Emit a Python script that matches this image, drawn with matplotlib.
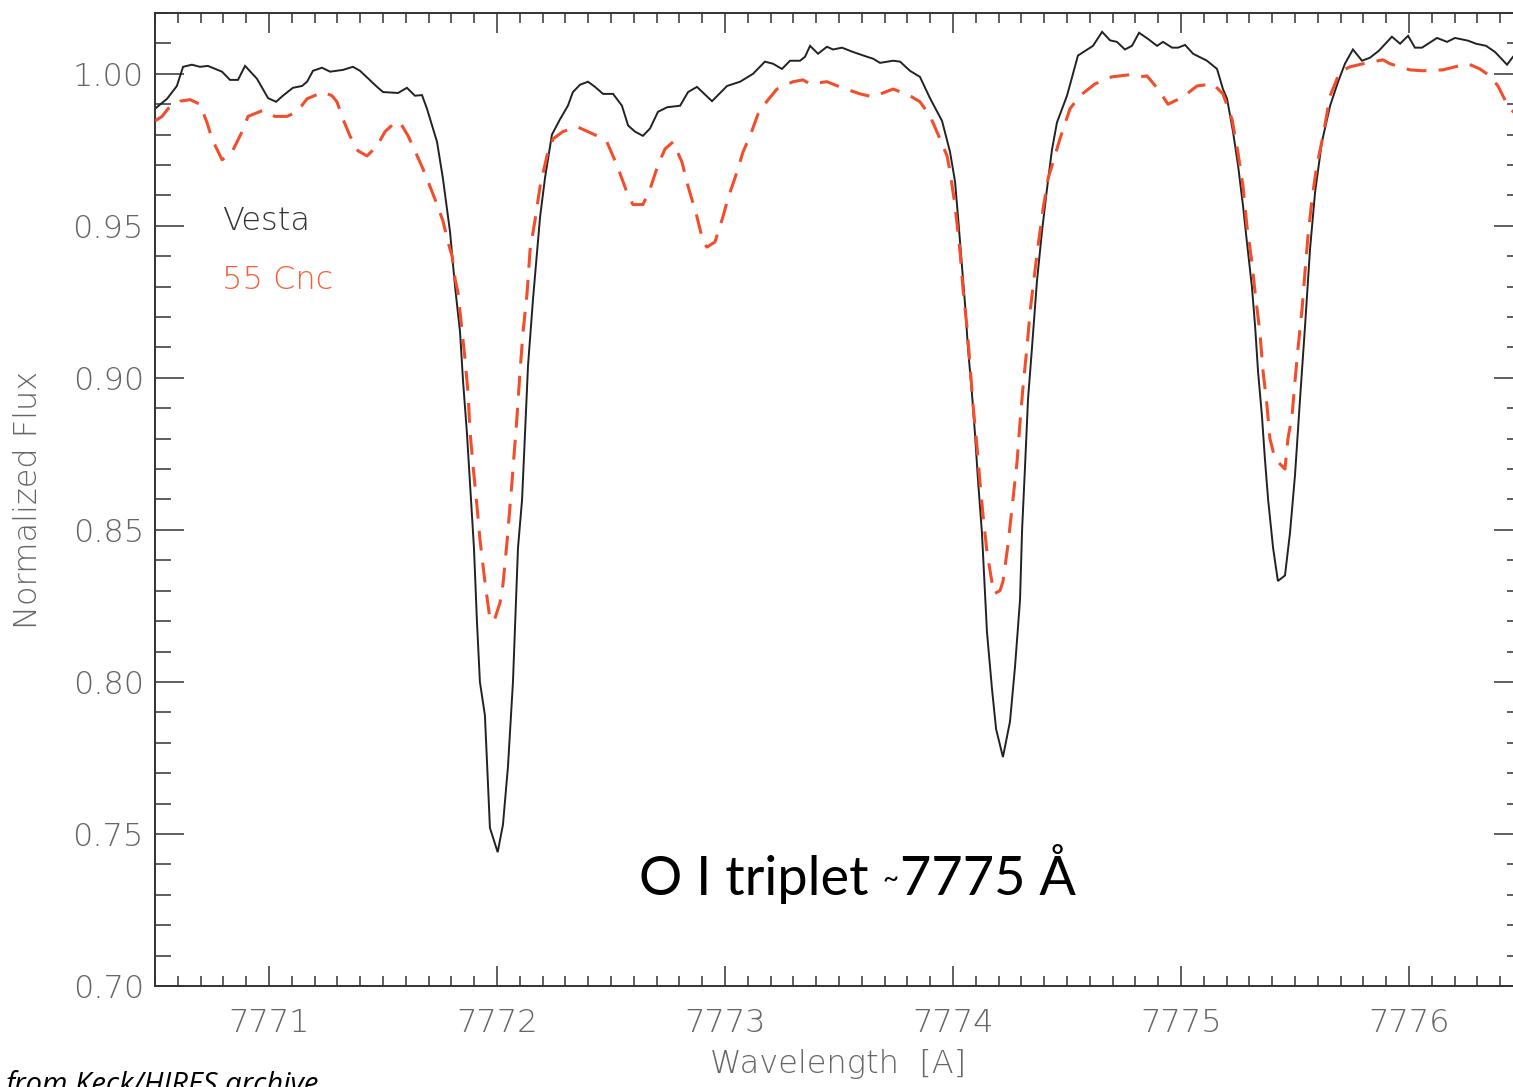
import matplotlib
matplotlib.use("Agg")
import matplotlib.pyplot as plt
from matplotlib.ticker import MultipleLocator, FormatStrFormatter

# ---------------- data ----------------
vesta_wl = [
    7770.500, 7770.553, 7770.596, 7770.623, 7770.662, 7770.697, 7770.732, 7770.794,
    7770.829, 7770.864, 7770.895, 7770.947, 7770.996, 7771.031, 7771.061, 7771.105,
    7771.145, 7771.167, 7771.193, 7771.232, 7771.268, 7771.325, 7771.368, 7771.399,
    7771.474, 7771.500, 7771.566, 7771.605, 7771.640, 7771.671, 7771.693, 7771.737,
    7771.763, 7771.794, 7771.816, 7771.838, 7771.851, 7771.868, 7771.882, 7771.899,
    7771.912, 7771.925, 7771.947, 7771.969, 7772.003, 7772.026, 7772.048, 7772.070,
    7772.092, 7772.110, 7772.123, 7772.136, 7772.158, 7772.189, 7772.211, 7772.241,
    7772.276, 7772.311, 7772.333, 7772.364, 7772.399, 7772.430, 7772.465, 7772.509,
    7772.548, 7772.575, 7772.605, 7772.640, 7772.671, 7772.706, 7772.746, 7772.803,
    7772.838, 7772.877, 7772.943, 7773.009, 7773.066, 7773.123, 7773.175, 7773.211,
    7773.250, 7773.285, 7773.329, 7773.351, 7773.373, 7773.408, 7773.447, 7773.474,
    7773.513, 7773.561, 7773.623, 7773.649, 7773.680, 7773.737, 7773.768, 7773.811,
    7773.855, 7773.899, 7773.952, 7773.987, 7774.009, 7774.022, 7774.039, 7774.053,
    7774.066, 7774.083, 7774.096, 7774.110, 7774.127, 7774.149, 7774.171, 7774.189,
    7774.219, 7774.250, 7774.272, 7774.294, 7774.303, 7774.316, 7774.329, 7774.346,
    7774.368, 7774.390, 7774.412, 7774.434, 7774.456, 7774.500, 7774.548, 7774.614,
    7774.654, 7774.689, 7774.719, 7774.754, 7774.785, 7774.816, 7774.855, 7774.895,
    7774.921, 7774.961, 7774.987, 7775.018, 7775.053, 7775.114, 7775.158, 7775.184,
    7775.202, 7775.228, 7775.250, 7775.272, 7775.289, 7775.311, 7775.325, 7775.338,
    7775.355, 7775.368, 7775.382, 7775.404, 7775.425, 7775.456, 7775.478, 7775.500,
    7775.522, 7775.544, 7775.566, 7775.588, 7775.618, 7775.654, 7775.689, 7775.719,
    7775.754, 7775.794, 7775.829, 7775.868, 7775.925, 7775.961, 7775.996, 7776.026,
    7776.057, 7776.123, 7776.167, 7776.202, 7776.259, 7776.294, 7776.338, 7776.377,
    7776.430, 7776.456, 7776.500,
]
vesta_flux = [
    0.9885, 0.9918, 0.9960, 1.0023, 1.0030, 1.0023, 1.0026, 1.0007,
    0.9980, 0.9980, 1.0026, 0.9984, 0.9920, 0.9908, 0.9928, 0.9954,
    0.9960, 0.9974, 1.0010, 1.0020, 1.0007, 1.0013, 1.0023, 1.0010,
    0.9957, 0.9940, 0.9937, 0.9954, 0.9928, 0.9930, 0.9885, 0.9776,
    0.9655, 0.9480, 0.9300, 0.9150, 0.8990, 0.8820, 0.8650, 0.8440,
    0.8200, 0.8000, 0.7890, 0.7520, 0.7440, 0.7530, 0.7720, 0.8000,
    0.8440, 0.8600, 0.8820, 0.9040, 0.9260, 0.9530, 0.9660, 0.9800,
    0.9850, 0.9895, 0.9940, 0.9964, 0.9974, 0.9957, 0.9934, 0.9934,
    0.9895, 0.9830, 0.9810, 0.9796, 0.9820, 0.9875, 0.9890, 0.9895,
    0.9940, 0.9957, 0.9910, 0.9960, 0.9974, 1.0000, 1.0040, 1.0033,
    1.0016, 1.0043, 1.0043, 1.0056, 1.0092, 1.0066, 1.0089, 1.0080,
    1.0086, 1.0072, 1.0056, 1.0050, 1.0036, 1.0043, 1.0040, 1.0010,
    0.9990, 0.9920, 0.9845, 0.9743, 0.9645, 0.9530, 0.9370, 0.9240,
    0.9095, 0.8950, 0.8820, 0.8660, 0.8490, 0.8164, 0.7977, 0.7845,
    0.7753, 0.7870, 0.8050, 0.8270, 0.8500, 0.8710, 0.8930, 0.9095,
    0.9316, 0.9480, 0.9620, 0.9750, 0.9840, 0.9928, 1.0060, 1.0092,
    1.0138, 1.0110, 1.0105, 1.0080, 1.0092, 1.0135, 1.0115, 1.0092,
    1.0105, 1.0086, 1.0086, 1.0095, 1.0066, 1.0043, 1.0016, 0.9950,
    0.9918, 0.9810, 0.9700, 0.9566, 0.9447, 0.9300, 0.9170, 0.9020,
    0.8875, 0.8734, 0.8600, 0.8440, 0.8332, 0.8350, 0.8490, 0.8680,
    0.8930, 0.9170, 0.9424, 0.9610, 0.9776, 0.9895, 0.9974, 1.0033,
    1.0080, 1.0043, 1.0053, 1.0076, 1.0122, 1.0099, 1.0125, 1.0086,
    1.0086, 1.0118, 1.0105, 1.0118, 1.0109, 1.0099, 1.0092, 1.0072,
    1.0030, 1.0056, 1.0080,
]

cnc_wl = [
    7770.500, 7770.531, 7770.557, 7770.610, 7770.654, 7770.697, 7770.728, 7770.750,
    7770.794, 7770.838, 7770.882, 7770.908, 7770.974, 7771.026, 7771.079, 7771.123,
    7771.167, 7771.237, 7771.276, 7771.298, 7771.325, 7771.355, 7771.390, 7771.430,
    7771.474, 7771.509, 7771.553, 7771.575, 7771.610, 7771.640, 7771.675, 7771.706,
    7771.737, 7771.763, 7771.785, 7771.803, 7771.816, 7771.829, 7771.838, 7771.846,
    7771.860, 7771.873, 7771.882, 7771.895, 7771.912, 7771.925, 7771.947, 7771.969,
    7771.987, 7772.013, 7772.026, 7772.044, 7772.066, 7772.088, 7772.101, 7772.114,
    7772.132, 7772.145, 7772.167, 7772.189, 7772.219, 7772.246, 7772.289, 7772.351,
    7772.439, 7772.482, 7772.526, 7772.570, 7772.596, 7772.640, 7772.671, 7772.706,
    7772.737, 7772.772, 7772.811, 7772.838, 7772.877, 7772.904, 7772.921, 7772.956,
    7772.991, 7773.013, 7773.053, 7773.079, 7773.110, 7773.145, 7773.184, 7773.228,
    7773.298, 7773.342, 7773.373, 7773.447, 7773.504, 7773.592, 7773.649, 7773.737,
    7773.811, 7773.855, 7773.899, 7773.943, 7773.974, 7773.987, 7774.009, 7774.031,
    7774.044, 7774.061, 7774.075, 7774.088, 7774.105, 7774.118, 7774.132, 7774.149,
    7774.167, 7774.180, 7774.206, 7774.219, 7774.241, 7774.263, 7774.281, 7774.294,
    7774.307, 7774.325, 7774.338, 7774.351, 7774.373, 7774.395, 7774.417, 7774.447,
    7774.469, 7774.513, 7774.557, 7774.623, 7774.697, 7774.776, 7774.820, 7774.851,
    7774.899, 7774.943, 7775.009, 7775.070, 7775.140, 7775.184, 7775.224, 7775.250,
    7775.272, 7775.289, 7775.311, 7775.325, 7775.346, 7775.360, 7775.377, 7775.390,
    7775.412, 7775.456, 7775.469, 7775.487, 7775.500, 7775.513, 7775.531, 7775.544,
    7775.557, 7775.575, 7775.596, 7775.623, 7775.654, 7775.697, 7775.741, 7775.798,
    7775.886, 7775.917, 7776.004, 7776.061, 7776.149, 7776.202, 7776.259, 7776.311,
    7776.355, 7776.390, 7776.434, 7776.500,
]
cnc_flux = [
    0.9845, 0.9860, 0.9885, 0.9910, 0.9915, 0.9900, 0.9840, 0.9786,
    0.9717, 0.9743, 0.9810, 0.9860, 0.9880, 0.9860, 0.9860, 0.9875,
    0.9918, 0.9940, 0.9928, 0.9908, 0.9850, 0.9796, 0.9747, 0.9730,
    0.9763, 0.9810, 0.9840, 0.9840, 0.9796, 0.9747, 0.9688, 0.9630,
    0.9570, 0.9516, 0.9447, 0.9400, 0.9326, 0.9280, 0.9217, 0.9160,
    0.9060, 0.8950, 0.8820, 0.8710, 0.8580, 0.8470, 0.8330, 0.8207,
    0.8200, 0.8260, 0.8320, 0.8460, 0.8660, 0.8875, 0.9020, 0.9150,
    0.9280, 0.9420, 0.9520, 0.9630, 0.9730, 0.9786, 0.9810, 0.9826,
    0.9796, 0.9776, 0.9700, 0.9610, 0.9570, 0.9570, 0.9620, 0.9700,
    0.9753, 0.9776, 0.9710, 0.9630, 0.9530, 0.9447, 0.9430, 0.9447,
    0.9530, 0.9590, 0.9678, 0.9743, 0.9796, 0.9868, 0.9910, 0.9950,
    0.9974, 0.9980, 0.9967, 0.9974, 0.9957, 0.9934, 0.9924, 0.9950,
    0.9928, 0.9908, 0.9862, 0.9786, 0.9730, 0.9678, 0.9566, 0.9414,
    0.9290, 0.9170, 0.9040, 0.8910, 0.8776, 0.8660, 0.8546, 0.8428,
    0.8345, 0.8290, 0.8300, 0.8330, 0.8450, 0.8600, 0.8724, 0.8855,
    0.8970, 0.9105, 0.9217, 0.9300, 0.9434, 0.9556, 0.9655, 0.9730,
    0.9786, 0.9885, 0.9928, 0.9967, 0.9990, 0.9997, 0.9990, 0.9993,
    0.9950, 0.9900, 0.9924, 0.9960, 0.9967, 0.9934, 0.9850, 0.9740,
    0.9630, 0.9500, 0.9380, 0.9280, 0.9150, 0.9020, 0.8910, 0.8800,
    0.8734, 0.8700, 0.8800, 0.8875, 0.8990, 0.9095, 0.9227, 0.9350,
    0.9467, 0.9590, 0.9700, 0.9796, 0.9928, 1.0007, 1.0023, 1.0033,
    1.0046, 1.0033, 1.0013, 1.0010, 1.0013, 1.0023, 1.0033, 1.0016,
    0.9993, 0.9960, 0.9895, 0.9840,
]

series_labels = ["Vesta", "55 Cnc"]
x_ticks = [7771, 7772, 7773, 7774, 7775, 7776]
y_ticks = [0.70, 0.75, 0.80, 0.85, 0.90, 0.95, 1.00]

# ---------------- styling ----------------
W, H = 1513, 1087
BLACK = "#222222"
ORANGE = "#F24E2C"
GRAY = "#666666"
AXC = "#333333"
FAM = ["DejaVu Sans"]
WT = "light"
FS = 23

fig = plt.figure(figsize=(W / 100, H / 100), dpi=100)
fig.patch.set_facecolor("white")
ax = fig.add_axes([155 / W, 101 / H, 1368 / W, 973 / H])

ax.plot(vesta_wl, vesta_flux, color=BLACK, lw=1.4, solid_joinstyle="miter", zorder=2)
ax.plot(cnc_wl, cnc_flux, color=ORANGE, lw=2.2, dashes=(6.5, 4.0), zorder=3)

ax.set_xlim(7770.5, 7776.5)
ax.set_ylim(0.70, 1.02)

ax.xaxis.set_minor_locator(MultipleLocator(0.1))
ax.yaxis.set_minor_locator(MultipleLocator(0.01))
ax.set_xticks(x_ticks)
ax.set_yticks(y_ticks)
ax.yaxis.set_major_formatter(FormatStrFormatter("%.2f"))
ax.xaxis.set_major_formatter(FormatStrFormatter("%d"))

for s in ax.spines.values():
    s.set_color(AXC)
    s.set_linewidth(1.4)

ax.tick_params(axis="x", which="major", direction="in", length=14.4, width=1.1,
               color=AXC, top=True, bottom=True, pad=16, labelsize=FS, labelcolor=GRAY)
ax.tick_params(axis="x", which="minor", direction="in", length=7.2, width=1.1,
               color=AXC, top=True, bottom=True)
ax.tick_params(axis="y", which="major", direction="in", length=20.9, width=1.1,
               color=AXC, left=True, right=True, pad=8, labelsize=FS, labelcolor=GRAY)
ax.tick_params(axis="y", which="minor", direction="in", length=11.5, width=1.1,
               color=AXC, left=True, right=True)
for lab in ax.get_xticklabels() + ax.get_yticklabels():
    lab.set_family(FAM)
    lab.set_weight(WT)

ax.set_xlabel("Wavelength  [A]", fontsize=FS, color=GRAY, family=FAM, weight=WT)
ax.set_ylabel("Normalized Flux", fontsize=FS, color=GRAY, family=FAM, weight=WT)
ax.xaxis.set_label_coords((838 - 155) / 1368, -(1049 - 986) / 973)
ax.yaxis.set_label_coords(-(155 - 43) / 1368, (986 - 500) / 973)

ax.text(7770.795, 0.9487, series_labels[0], fontsize=FS, color="#333333",
        family=FAM, weight=WT, va="baseline")
ax.text(7770.795, 0.9293, series_labels[1], fontsize=FS, color="#F4603A",
        family=FAM, weight=WT, va="baseline")

# annotation "O I triplet ~7775 Å"
ann_font = ["Lato", "DejaVu Sans"]
base_y = (H - 895) / H
t1 = fig.text(639 / W, base_y, "O I triplet ", fontsize=39, family=ann_font,
              color="black", va="baseline", ha="left")
fig.canvas.draw()
r = fig.canvas.get_renderer()
bb = t1.get_window_extent(r)
t2 = fig.text(bb.x1 / W, base_y + 6 / H, "~", fontsize=20, family=ann_font,
              color="black", va="baseline", ha="left")
bb2 = t2.get_window_extent(r)
fig.text(bb2.x1 / W + 1 / W, base_y, "7775 Å", fontsize=39, family=ann_font,
         color="black", va="baseline", ha="left")

fig.text(5 / W, (H - 1093) / H, "from Keck/HIRES archive", fontsize=21,
         family=["Open Sans", "DejaVu Sans"], style="italic", color="black",
         va="baseline", ha="left")

fig.savefig("out.png", dpi=100, facecolor="white")
